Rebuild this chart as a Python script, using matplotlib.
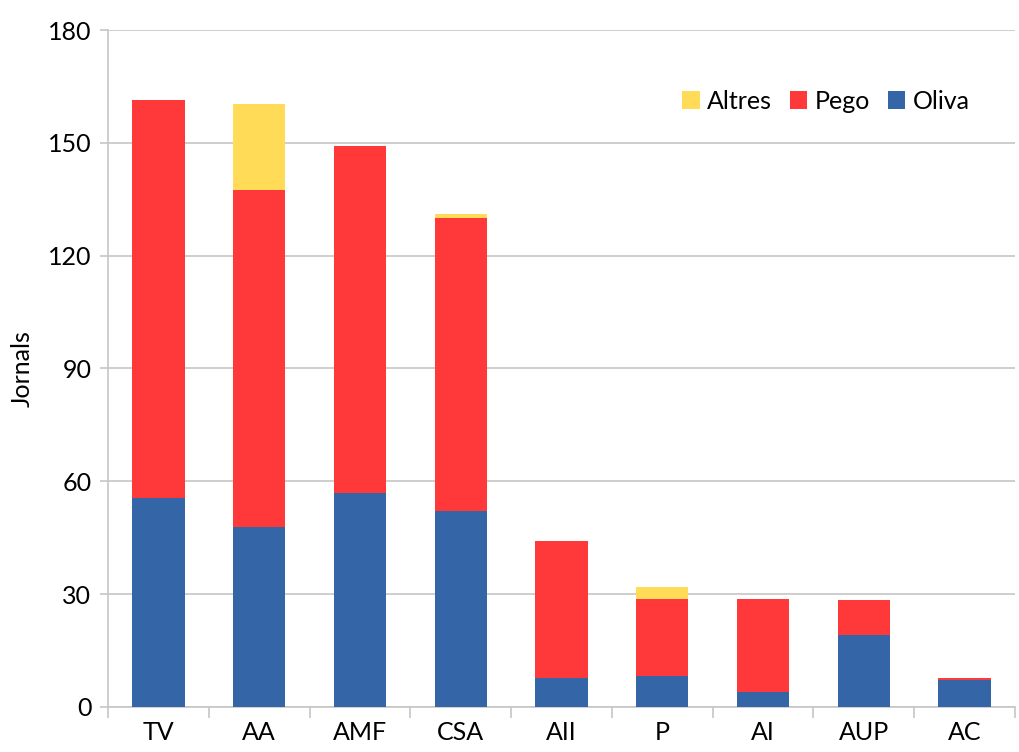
import matplotlib
matplotlib.use("Agg")
import matplotlib.pyplot as plt
import numpy as np

# data
categories = ["TV", "AA", "AMF", "CSA", "AII", "P", "AI", "AUP", "AC"]
oliva = [55.5, 47.8, 56.8, 52.2, 7.6, 8.1, 3.9, 19.0, 7.1]
pego = [106.0, 89.8, 92.4, 77.8, 36.6, 20.7, 24.7, 9.3, 0.5]
altres = [0.0, 22.8, 0.0, 1.1, 0.0, 3.2, 0.0, 0.0, 0.0]

c_oliva = "#3465A6"
c_pego = "#FF383A"
c_altres = "#FFDB58"
grid_c = "#C6C6C6"

plt.rcParams['font.family'] = ['Lato', 'DejaVu Sans']

fig = plt.figure(figsize=(10.19, 7.52), dpi=100)
ax = fig.add_axes([0.106, 0.06, 0.89, 0.90])

x = np.arange(len(categories))
w = 0.52
oliva = np.array(oliva)
pego = np.array(pego)
altres = np.array(altres)
b1 = ax.bar(x, oliva, w, color=c_oliva, label="Oliva", zorder=3)
b2 = ax.bar(x, pego, w, bottom=oliva, color=c_pego, label="Pego", zorder=3)
b3 = ax.bar(x, altres, w, bottom=oliva + pego, color=c_altres, label="Altres", zorder=3)

ax.set_xlim(-0.5, len(categories) - 0.5)
ax.set_ylim(0, 180)
ax.set_yticks(np.arange(0, 181, 30))
ax.yaxis.grid(True, color=grid_c, linewidth=1.2, zorder=0)
ax.set_axisbelow(True)

ax.set_xticks(x)
ax.set_xticklabels(categories)
ax.set_xticks(np.arange(-0.5, len(categories) - 0.4, 1), minor=True)
ax.tick_params(axis='x', which='major', length=0, pad=10, labelsize=18)
ax.tick_params(axis='x', which='minor', length=8, color=grid_c, width=1.2)
ax.tick_params(axis='y', length=6, color=grid_c, width=1.2, labelsize=18, pad=6)

for s in ["top", "right"]:
    ax.spines[s].set_visible(False)
for s in ["left", "bottom"]:
    ax.spines[s].set_color(grid_c)
    ax.spines[s].set_linewidth(1.2)

ax.set_ylabel("Jornals", fontsize=18, labelpad=10)

ax.legend(handles=[b3, b2, b1], loc="upper right", bbox_to_anchor=(0.975, 0.945),
          ncol=3, frameon=False, fontsize=18, handlelength=0.7, handleheight=0.7,
          handletextpad=0.3, columnspacing=0.7)

fig.savefig("out.png", dpi=100)
